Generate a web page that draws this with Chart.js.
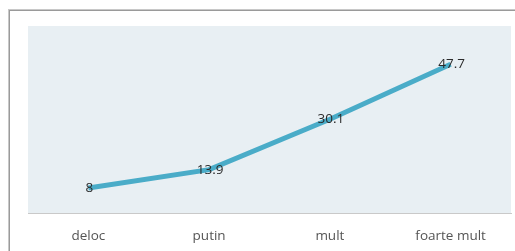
<!DOCTYPE html>
<html>
<head>
<meta charset="utf-8">
<script src="https://cdn.jsdelivr.net/npm/chart.js@4"></script>
<style>
  html, body { margin: 0; padding: 0; background: #fff; overflow: hidden; }
  #wrap { position: relative; width: 515px; height: 251px; overflow: hidden; }
  #frame {
    position: absolute; left: 9px; top: 10px; width: 560px; height: 300px;
    border: 1px solid #9a9a9a; box-shadow: -1px -1px 0 #c8c8c8;
  }
  canvas { position: absolute; left: 0; top: 0; }
</style>
</head>
<body>
<div id="wrap">
  <div id="frame"></div>
  <canvas id="chart" width="515" height="251"></canvas>
</div>
<script>
const categories = ['deloc', 'putin', 'mult', 'foarte mult'];
const values = [8, 13.9, 30.1, 47.7];
const valueLabels = ['8', '13.9', '30.1', '47.7'];

// light panel behind the plot
const plotBackground = {
  id: 'plotBackground',
  beforeDraw(chart) {
    const { ctx, chartArea } = chart;
    ctx.save();
    ctx.fillStyle = '#e8eff3';
    ctx.fillRect(chartArea.left, chartArea.top, chartArea.right - chartArea.left, chartArea.bottom - chartArea.top);
    ctx.restore();
  }
};

// value text sitting right on each point
const pointLabels = {
  id: 'pointLabels',
  afterDatasetsDraw(chart) {
    const { ctx } = chart;
    const meta = chart.getDatasetMeta(0);
    ctx.save();
    ctx.font = '13.5px "Open Sans", sans-serif';
    ctx.fillStyle = '#2b2b2b';
    ctx.textAlign = 'center';
    ctx.textBaseline = 'middle';
    meta.data.forEach((pt, i) => {
      ctx.fillText(valueLabels[i], pt.x + 1, pt.y);
    });
    ctx.restore();
  }
};

new Chart(document.getElementById('chart').getContext('2d'), {
  type: 'line',
  data: {
    labels: categories,
    datasets: [{
      data: values,
      borderColor: '#4aacc8',
      borderWidth: 5,
      pointRadius: 0,
      tension: 0,
      fill: false
    }]
  },
  options: {
    responsive: false,
    animation: false,
    layout: { padding: { left: 28, top: 26, right: 4, bottom: 0 } },
    plugins: { legend: { display: false }, tooltip: { enabled: false } },
    scales: {
      x: {
        offset: true,
        grid: { display: false },
        border: { display: true, color: '#c9c9c9', width: 1 },
        afterFit(scale) { scale.height = 38; },
        ticks: {
          padding: 7,
          color: '#555555',
          font: { family: '"Open Sans", sans-serif', size: 13.5 }
        }
      },
      y: {
        display: false,
        min: 0,
        max: 60
      }
    }
  },
  plugins: [plotBackground, pointLabels]
});
</script>
</body>
</html>
